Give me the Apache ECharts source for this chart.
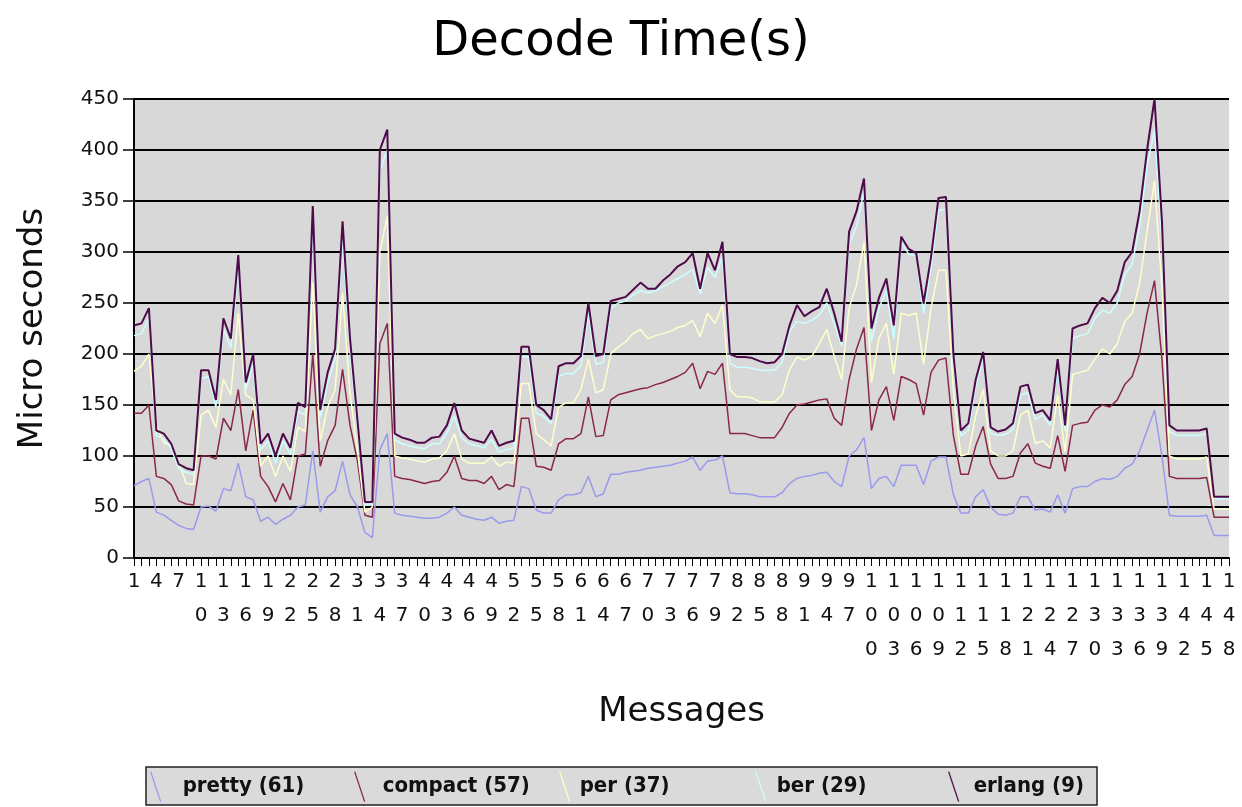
<!DOCTYPE html>
<html>
<head>
<meta charset="utf-8">
<script src="https://cdn.jsdelivr.net/npm/echarts@6/dist/echarts.min.js"></script>
<style>html,body{margin:0;padding:0;background:#fff}#c{width:1242px;height:807px}</style>
</head>
<body>
<div id="c"></div>
<script>
var categories = ['1','2','3','4','5','6','7','8','9','10','11','12','13','14','15','16','17','18','19','20','21','22','23','24','25','26','27','28','29','30','31','32','33','34','35','36','37','38','39','40','41','42','43','44','45','46','47','48','49','50','51','52','53','54','55','56','57','58','59','60','61','62','63','64','65','66','67','68','69','70','71','72','73','74','75','76','77','78','79','80','81','82','83','84','85','86','87','88','89','90','91','92','93','94','95','96','97','98','99','100','101','102','103','104','105','106','107','108','109','110','111','112','113','114','115','116','117','118','119','120','121','122','123','124','125','126','127','128','129','130','131','132','133','134','135','136','137','138','139','140','141','142','143','144','145','146','147','148'];

var pretty = [71,75,78,45,42,37,32,29,28,50,51,46,68,66,93,60,57,36,40,33,38,42,50,52,105,45,60,66,95,62,50,25,20,106,122,44,42,41,40,39,39,40,44,50,42,40,38,37,40,34,36,37,70,68,47,44,44,57,62,62,64,80,60,63,82,82,84,85,86,88,89,90,91,93,95,99,86,95,96,100,64,63,63,62,60,60,60,64,73,78,80,81,83,84,75,70,100,106,118,68,78,80,70,91,91,91,72,95,99,99,62,44,44,60,67,50,43,42,44,60,60,47,48,45,62,44,68,70,70,75,78,77,80,88,92,105,125,145,100,42,41,41,41,41,42,22,22,22];

var compact = [142,142,150,80,78,72,56,53,52,100,100,97,137,125,165,105,145,80,70,55,73,57,100,102,200,90,115,130,185,130,95,42,40,210,230,80,78,77,75,73,75,76,84,100,78,76,76,73,80,67,72,70,137,137,90,89,86,112,117,117,122,158,119,120,155,160,162,164,166,167,170,172,175,178,182,191,166,183,180,191,122,122,122,120,118,118,118,128,142,150,151,153,155,156,137,130,175,205,226,125,155,168,135,178,175,171,140,182,194,196,120,82,82,110,129,92,78,78,80,103,112,93,90,88,120,85,130,132,133,145,150,148,155,170,178,200,240,272,195,80,78,78,78,78,79,40,40,40];

var per = [183,188,200,130,113,110,94,73,72,140,145,128,175,160,240,160,155,90,100,80,100,85,128,124,270,115,148,165,260,162,105,45,50,300,335,100,98,97,95,94,97,98,105,122,97,93,93,93,99,90,94,93,171,171,122,116,110,148,152,152,165,195,162,165,200,207,212,220,224,215,218,220,222,226,228,233,217,240,230,248,165,158,158,157,153,153,153,160,185,197,194,198,210,224,198,175,245,268,310,172,215,230,180,240,238,240,190,245,282,282,165,100,102,140,165,105,100,100,105,140,145,112,115,108,160,104,180,182,184,195,205,200,210,232,240,270,320,370,265,100,97,97,97,97,99,48,48,48];

var ber = [218,220,235,120,117,107,88,84,82,176,178,148,225,206,285,165,190,106,115,93,115,101,144,140,325,138,172,195,312,202,127,52,53,380,400,116,112,110,108,107,112,112,122,139,118,112,110,108,116,104,106,108,197,197,142,139,132,178,181,181,188,240,190,192,245,250,252,258,262,260,262,266,270,274,278,283,259,285,275,295,191,187,187,186,184,184,184,192,222,232,230,233,238,250,230,208,308,325,360,212,245,262,215,310,298,296,240,285,341,342,190,120,125,168,196,122,120,121,126,160,162,136,140,130,185,124,215,218,220,235,243,240,250,278,288,325,385,420,310,124,120,120,120,120,122,58,58,58];

var erlang = [228,230,245,125,122,112,92,88,86,184,184,155,235,215,297,172,200,112,122,100,122,108,152,148,345,145,182,205,330,215,135,55,55,400,420,122,118,116,113,113,118,119,130,152,125,117,115,113,125,110,113,115,207,207,150,145,136,188,191,191,198,250,198,200,252,254,256,263,270,264,264,272,278,286,290,299,264,299,282,310,200,197,197,196,193,191,192,200,228,248,237,242,246,264,240,212,320,340,372,225,255,274,228,315,303,299,250,295,353,354,200,125,132,175,202,128,124,126,132,168,170,142,145,135,195,130,225,228,230,245,255,250,262,290,300,340,400,450,330,130,125,125,125,125,127,60,60,60];

var seriesNames = ['pretty (61)','compact (57)','per (37)','ber (29)','erlang (9)'];
var seriesData = [pretty, compact, per, ber, erlang];
var colors = ['#9a9aec','#8a2848','#ffffcc','#ccffff','#4e0a4a'];
var widths = [1.5,1.5,1.5,1.5,2];
var yTicks = [0,50,100,150,200,250,300,350,400,450];
var legendLeft = [150,354,559,755,948];
var legendPad = [13,9,1,2,6];

var chart = echarts.init(document.getElementById('c'));
var FONT = 'DejaVu Sans';

var legends = seriesNames.map(function(n, i){
  return {
    data: [n],
    left: legendLeft[i],
    top: 771,
    orient: 'horizontal',
    icon: 'path://M0,0L10,30',
    itemWidth: 18,
    itemHeight: 30,
    itemGap: 0,
    padding: 0,
    selectedMode: false,
    itemStyle: {color: 'transparent', borderColor: colors[i], borderWidth: 1.3},
    textStyle: {fontFamily: 'DejaVu Sans Condensed', fontWeight: 'bold', fontSize: 22, color: '#111', padding:[0,0,0,legendPad[i]]}
  };
});

chart.setOption({
  backgroundColor: '#ffffff',
  animation: false,
  color: colors,
  title: {
    text: 'Decode Time(s)',
    left: 'center',
    top: 14,
    textStyle: {fontFamily: FONT, fontSize: 48, fontWeight: 'normal', color: '#000'}
  },
  graphic: [{
    type: 'rect', z: 0,
    shape: {x: 146, y: 767, width: 951, height: 38},
    style: {fill: '#dadada', stroke: '#222', lineWidth: 1.5}
  }],
  legend: legends,
  grid: {
    left: 134, right: 13, top: 99, bottom: 249,
    show: true, backgroundColor: '#d8d8d8', borderWidth: 0
  },
  xAxis: {
    type: 'category',
    data: categories,
    boundaryGap: false,
    name: 'Messages',
    nameLocation: 'middle',
    nameGap: 137,
    nameTextStyle: {fontFamily: FONT, fontSize: 34, color: '#111'},
    axisLine: {lineStyle: {color: '#000', width: 2}},
    axisTick: {show: true, interval: 0, length: 8, lineStyle: {color: '#000', width: 1}},
    axisLabel: {
      interval: 2,
      fontFamily: FONT, fontSize: 20, color: '#111',
      lineHeight: 34, margin: 7,
      formatter: function(v){ return v.split('').join('\n'); }
    },
    splitLine: {show: false}
  },
  yAxis: {
    type: 'value',
    min: yTicks[0], max: yTicks[yTicks.length-1], interval: 50,
    name: 'Micro seconds',
    nameLocation: 'middle',
    nameGap: 84,
    nameTextStyle: {fontFamily: FONT, fontSize: 34, color: '#111'},
    axisLine: {show: true, lineStyle: {color: '#000', width: 2}},
    axisTick: {show: true, length: 11, lineStyle: {color: '#000', width: 1.5}},
    axisLabel: {fontFamily: FONT, fontSize: 20, color: '#111', margin: 15},
    splitLine: {show: true, lineStyle: {color: '#000', width: 2}}
  },
  series: seriesNames.map(function(n, i){
    return {
      name: n, type: 'line', data: seriesData[i],
      symbol: 'none', smooth: false,
      lineStyle: {color: colors[i], width: widths[i]},
      itemStyle: {color: colors[i]},
      z: 2 + i
    };
  })
});
</script>
</body>
</html>
